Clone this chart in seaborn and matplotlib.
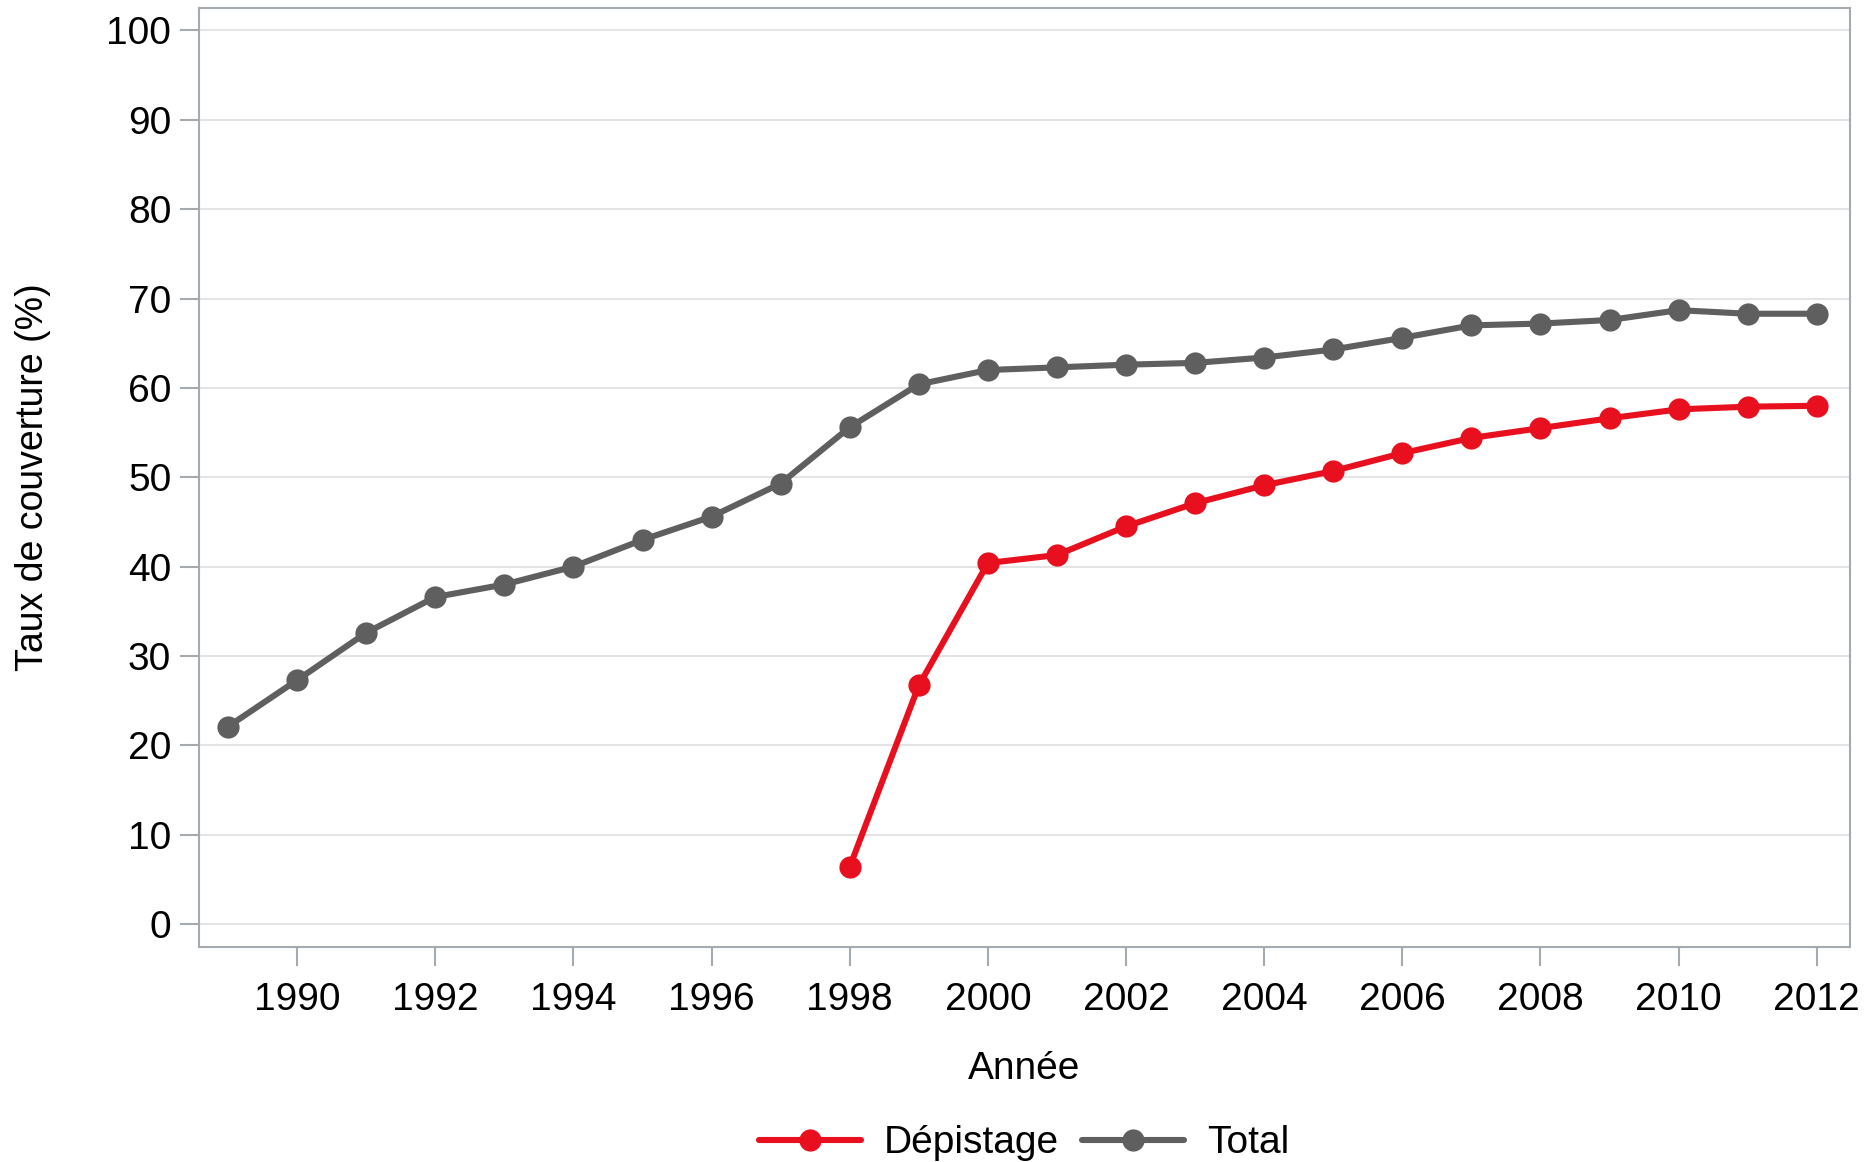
import pandas as pd
import matplotlib.pyplot as plt
import seaborn as sns

# values
years_total = list(range(1989, 2013))
total = [22.1, 27.3, 32.6, 36.6, 38.0, 40.0, 43.0, 45.6, 49.3, 55.6, 60.4, 62.0,
         62.3, 62.6, 62.8, 63.4, 64.3, 65.6, 67.0, 67.2, 67.6, 68.7, 68.3, 68.3]
years_dep = list(range(1998, 2013))
depistage = [6.4, 26.7, 40.4, 41.3, 44.5, 47.1, 49.1, 50.7, 52.7, 54.4, 55.5,
             56.6, 57.6, 57.9, 58.0]

df = pd.concat([
    pd.DataFrame({"Année": years_dep, "Taux": depistage, "Série": "Dépistage"}),
    pd.DataFrame({"Année": years_total, "Taux": total, "Série": "Total"}),
])

sns.set_style("white")
plt.rcParams["font.family"] = ["Liberation Sans", "DejaVu Sans"]
plt.rcParams["text.color"] = "black"
plt.rcParams["xtick.color"] = "black"
plt.rcParams["ytick.color"] = "black"
plt.rcParams["axes.labelcolor"] = "black"

fig = plt.figure(figsize=(18.76, 11.62), dpi=100)
ax = fig.add_axes([0.1061, 0.185, 0.88, 0.808])

palette = {"Dépistage": "#E8101E", "Total": "#5F5F5F"}
sns.lineplot(data=df, x="Année", y="Taux", hue="Série", palette=palette,
             marker="o", markersize=16, markeredgewidth=0, linewidth=4.4,
             ax=ax)

ax.set_xlim(1988.58, 2012.48)
ax.set_ylim(-2.57, 102.5)
ax.set_xticks(range(1990, 2013, 2))
ax.set_yticks(range(0, 101, 10))
ax.grid(axis="y", color="#e4e4e4", linewidth=1.5)
ax.set_axisbelow(True)

for s in ax.spines.values():
    s.set_color("#a3aab0")
    s.set_linewidth(1.5)
ax.tick_params(axis="both", bottom=True, left=True, labelsize=28, length=14,
               width=1.5, color="#a3aab0", labelcolor="black",
               direction="out", pad=6)
ax.tick_params(axis="x", pad=11)

ax.set_xlabel("Année", fontsize=28, labelpad=24)
ax.set_ylabel("Taux de couverture (%)", fontsize=27, labelpad=40)

ax.legend(loc="center", bbox_to_anchor=(0.546, 0.016),
          bbox_transform=fig.transFigure, ncol=2,
          frameon=False, fontsize=28, handlelength=2.6, columnspacing=0.6,
          handletextpad=0.6)

fig.savefig("out.png", dpi=100)
